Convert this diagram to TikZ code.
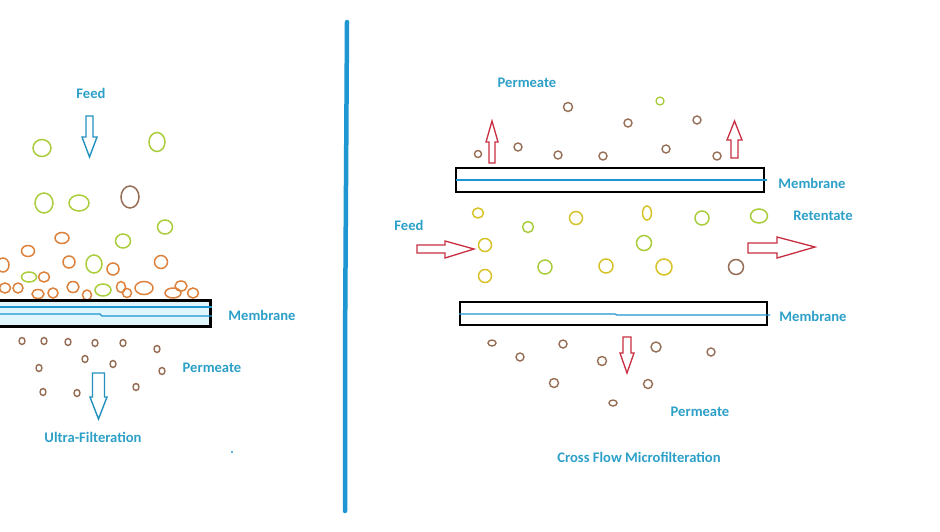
\documentclass[tikz,border=0pt]{standalone}
\usepackage{fontspec}
\setmainfont{Carlito}
\definecolor{txtblue}{RGB}{45,160,200}
\definecolor{linblue}{RGB}{30,150,210}
\definecolor{arrblue}{RGB}{35,145,190}
\definecolor{arrred}{RGB}{200,45,65}
\definecolor{pgreen}{RGB}{170,205,60}
\definecolor{pyellow}{RGB}{215,195,40}
\definecolor{porange}{RGB}{220,130,60}
\definecolor{pbrown}{RGB}{150,110,85}
\definecolor{memfill}{RGB}{225,245,252}
\tikzset{
  lbl/.style={text=txtblue, font=\bfseries\fontsize{14.6}{17}\selectfont, inner sep=0pt},
  hollowblue/.style={draw=arrblue, line width=1.4pt, fill=white, line join=miter},
  hollowred/.style={draw=arrred, line width=1.3pt, fill=white, line join=miter},
  gpart/.style={draw=pgreen, line width=1.5pt},
  ypart/.style={draw=pyellow, line width=1.5pt},
  opart/.style={draw=porange, line width=1.5pt},
  bpart/.style={draw=pbrown, line width=1.4pt},
  membox/.style={draw=black, line width=1.6pt, fill=white},
  memline/.style={draw=linblue, line width=1.2pt},
}
\begin{document}
\begin{tikzpicture}[x=1pt,y=-1pt]
\useasboundingbox (0,0) rectangle (940,531);
\clip (0,0) rectangle (940,531);
\fill[white] (0,0) rectangle (940,531);

% divider
\draw[draw=linblue, line width=4.5pt, line cap=round] (347,22) -- (346,185) -- (345,350) -- (345,511);

% ---------------- left: ultra-filtration ----------------
\node[lbl] (lfeed) at (91,93) {Feed};
\draw[hollowblue] (86,116) -- (93,116) -- (93,137) -- (97,137) -- (89.5,157) -- (82,137) -- (86,137) -- cycle;

% large particles
\foreach \x/\y/\a/\b in {42/148/9/8.5, 157/142/8/9.5, 44/203/9/10, 79/203/10/8, 165/227/7.5/7, 123/241/7.5/7, 94/264/8/9, 29/277/7.5/5, 103/290/8/6}
  \draw[gpart] (\x,\y) ellipse [x radius=\a pt, y radius=\b pt];
\draw[bpart, line width=1.5pt] (130,197) ellipse [x radius=9pt, y radius=11pt];
\foreach \x/\y/\a/\b in {62/238/7/5.5, 28/251/6.5/5.5, 69/262/6/6, 113/269/6/6, 161/262/6.5/6.5, 3/265/6/7, 44/277/5.5/5, 5/288/5.5/5, 18/288/5/5, 38/294/6/4.5, 53/293/5/5, 73/287/6/5.5, 87/295/4.5/5, 121/287/4.5/5.5, 127/293/4.5/4.5, 144/288/9/6.5, 173/293/8/5, 181/286/6/5, 193/293/5.5/5}
  \draw[opart] (\x,\y) ellipse [x radius=\a pt, y radius=\b pt];

% left membrane
\draw[draw=black, line width=3pt, fill=memfill] (-5,300) rectangle (210,326);
\draw[memline] (-5,307) -- (212,307);
\draw[memline] (-5,314) -- (100,314) -- (102,316) -- (212,316);
\node[lbl] (lmem) at (262,315) {Membrane};

% permeate particles
\foreach \x/\y in {22/341, 44/341, 68/342, 95/343, 123/343, 157/349, 85/359, 113/364, 39/368, 162/371, 43/392, 77/393, 136/387}
  \draw[bpart] (\x,\y) ellipse [x radius=3pt, y radius=3.5pt];
\node[lbl] (lperm) at (212,368) {Permeate};
\draw[hollowblue] (92.5,373) -- (104.5,373) -- (104.5,397) -- (107,397) -- (98.5,419) -- (90,397) -- (92.5,397) -- cycle;
\node[lbl] (luf) at (93,437) {Ultra-Filteration};
\fill[linblue] (232,452) circle [radius=1.2pt];

% ---------------- right: cross flow ----------------
\node[lbl] (rperm) at (527,83) {Permeate};
\draw[gpart, line width=1.3pt] (660,101) circle [radius=4pt];
\foreach \x/\y/\r in {568/107/4.5, 628/123/4, 697/120/4, 478/154/3.5, 518/147/4, 558/155/4, 603/156/4, 666/149/4, 717/156/4}
  \draw[bpart] (\x,\y) circle [radius=\r pt];
\draw[hollowred] (489,163) -- (495,163) -- (495,142) -- (498,142) -- (492,121) -- (486,142) -- (489,142) -- cycle;
\draw[hollowred] (731,158) -- (738,158) -- (738,140) -- (742,140) -- (734.5,121) -- (727,140) -- (731,140) -- cycle;

% top membrane
\draw[membox] (456,168) rectangle (764,192);
\draw[memline] (456,180) -- (767,180);
\node[lbl] (rmem1) at (812,183) {Membrane};

% feed / retentate
\node[lbl] (rfeed) at (409,225) {Feed};
\draw[hollowred] (417,245) -- (445,245) -- (445,241) -- (474,249) -- (445,258) -- (445,253) -- (417,253) -- cycle;
\node[lbl] (rret) at (823,216) {Retentate};
\draw[hollowred] (748,243) -- (777,243) -- (777,237) -- (815,247) -- (777,258) -- (777,253) -- (748,253) -- cycle;

% retained particles
\foreach \x/\y/\a/\b in {478/213/5.5/5, 576/218/6.5/6.5, 647/213/4.5/7, 485/245/6.5/6.5, 606/266/7/7, 664/267/8/8, 485/276/6.5/6.5}
  \draw[ypart] (\x,\y) ellipse [x radius=\a pt, y radius=\b pt];
\foreach \x/\y/\a/\b in {528/227/5.5/5.5, 702/218/7/7, 759/216/8.5/7, 644/243/7.5/7.5, 545/267/7/7}
  \draw[gpart] (\x,\y) ellipse [x radius=\a pt, y radius=\b pt];
\draw[bpart, line width=1.5pt] (736,267) circle [radius=7.5pt];

% bottom membrane
\draw[membox] (460,302) rectangle (767,325);
\draw[memline] (459,314) -- (615,314) -- (617,315) -- (770,315);
\node[lbl] (rmem2) at (813,316) {Membrane};

% bottom permeate
\draw[hollowred] (623,337) -- (631,337) -- (631,353) -- (634,353) -- (627,373) -- (620,353) -- (623,353) -- cycle;
\draw[bpart] (492,343) ellipse [x radius=4pt, y radius=3pt];
\foreach \x/\y/\r in {520/357/4, 563/344/4, 602/361/4.5, 656/347/5, 711/352/4, 554/383/4.5, 648/384/4.5}
  \draw[bpart] (\x,\y) circle [radius=\r pt];
\draw[bpart] (613,403) ellipse [x radius=4pt, y radius=3pt];
\node[lbl] (rperm2) at (700,412) {Permeate};
\node[lbl] (rcfm) at (639,457) {Cross Flow Microfilteration};
\end{tikzpicture}
\end{document}
